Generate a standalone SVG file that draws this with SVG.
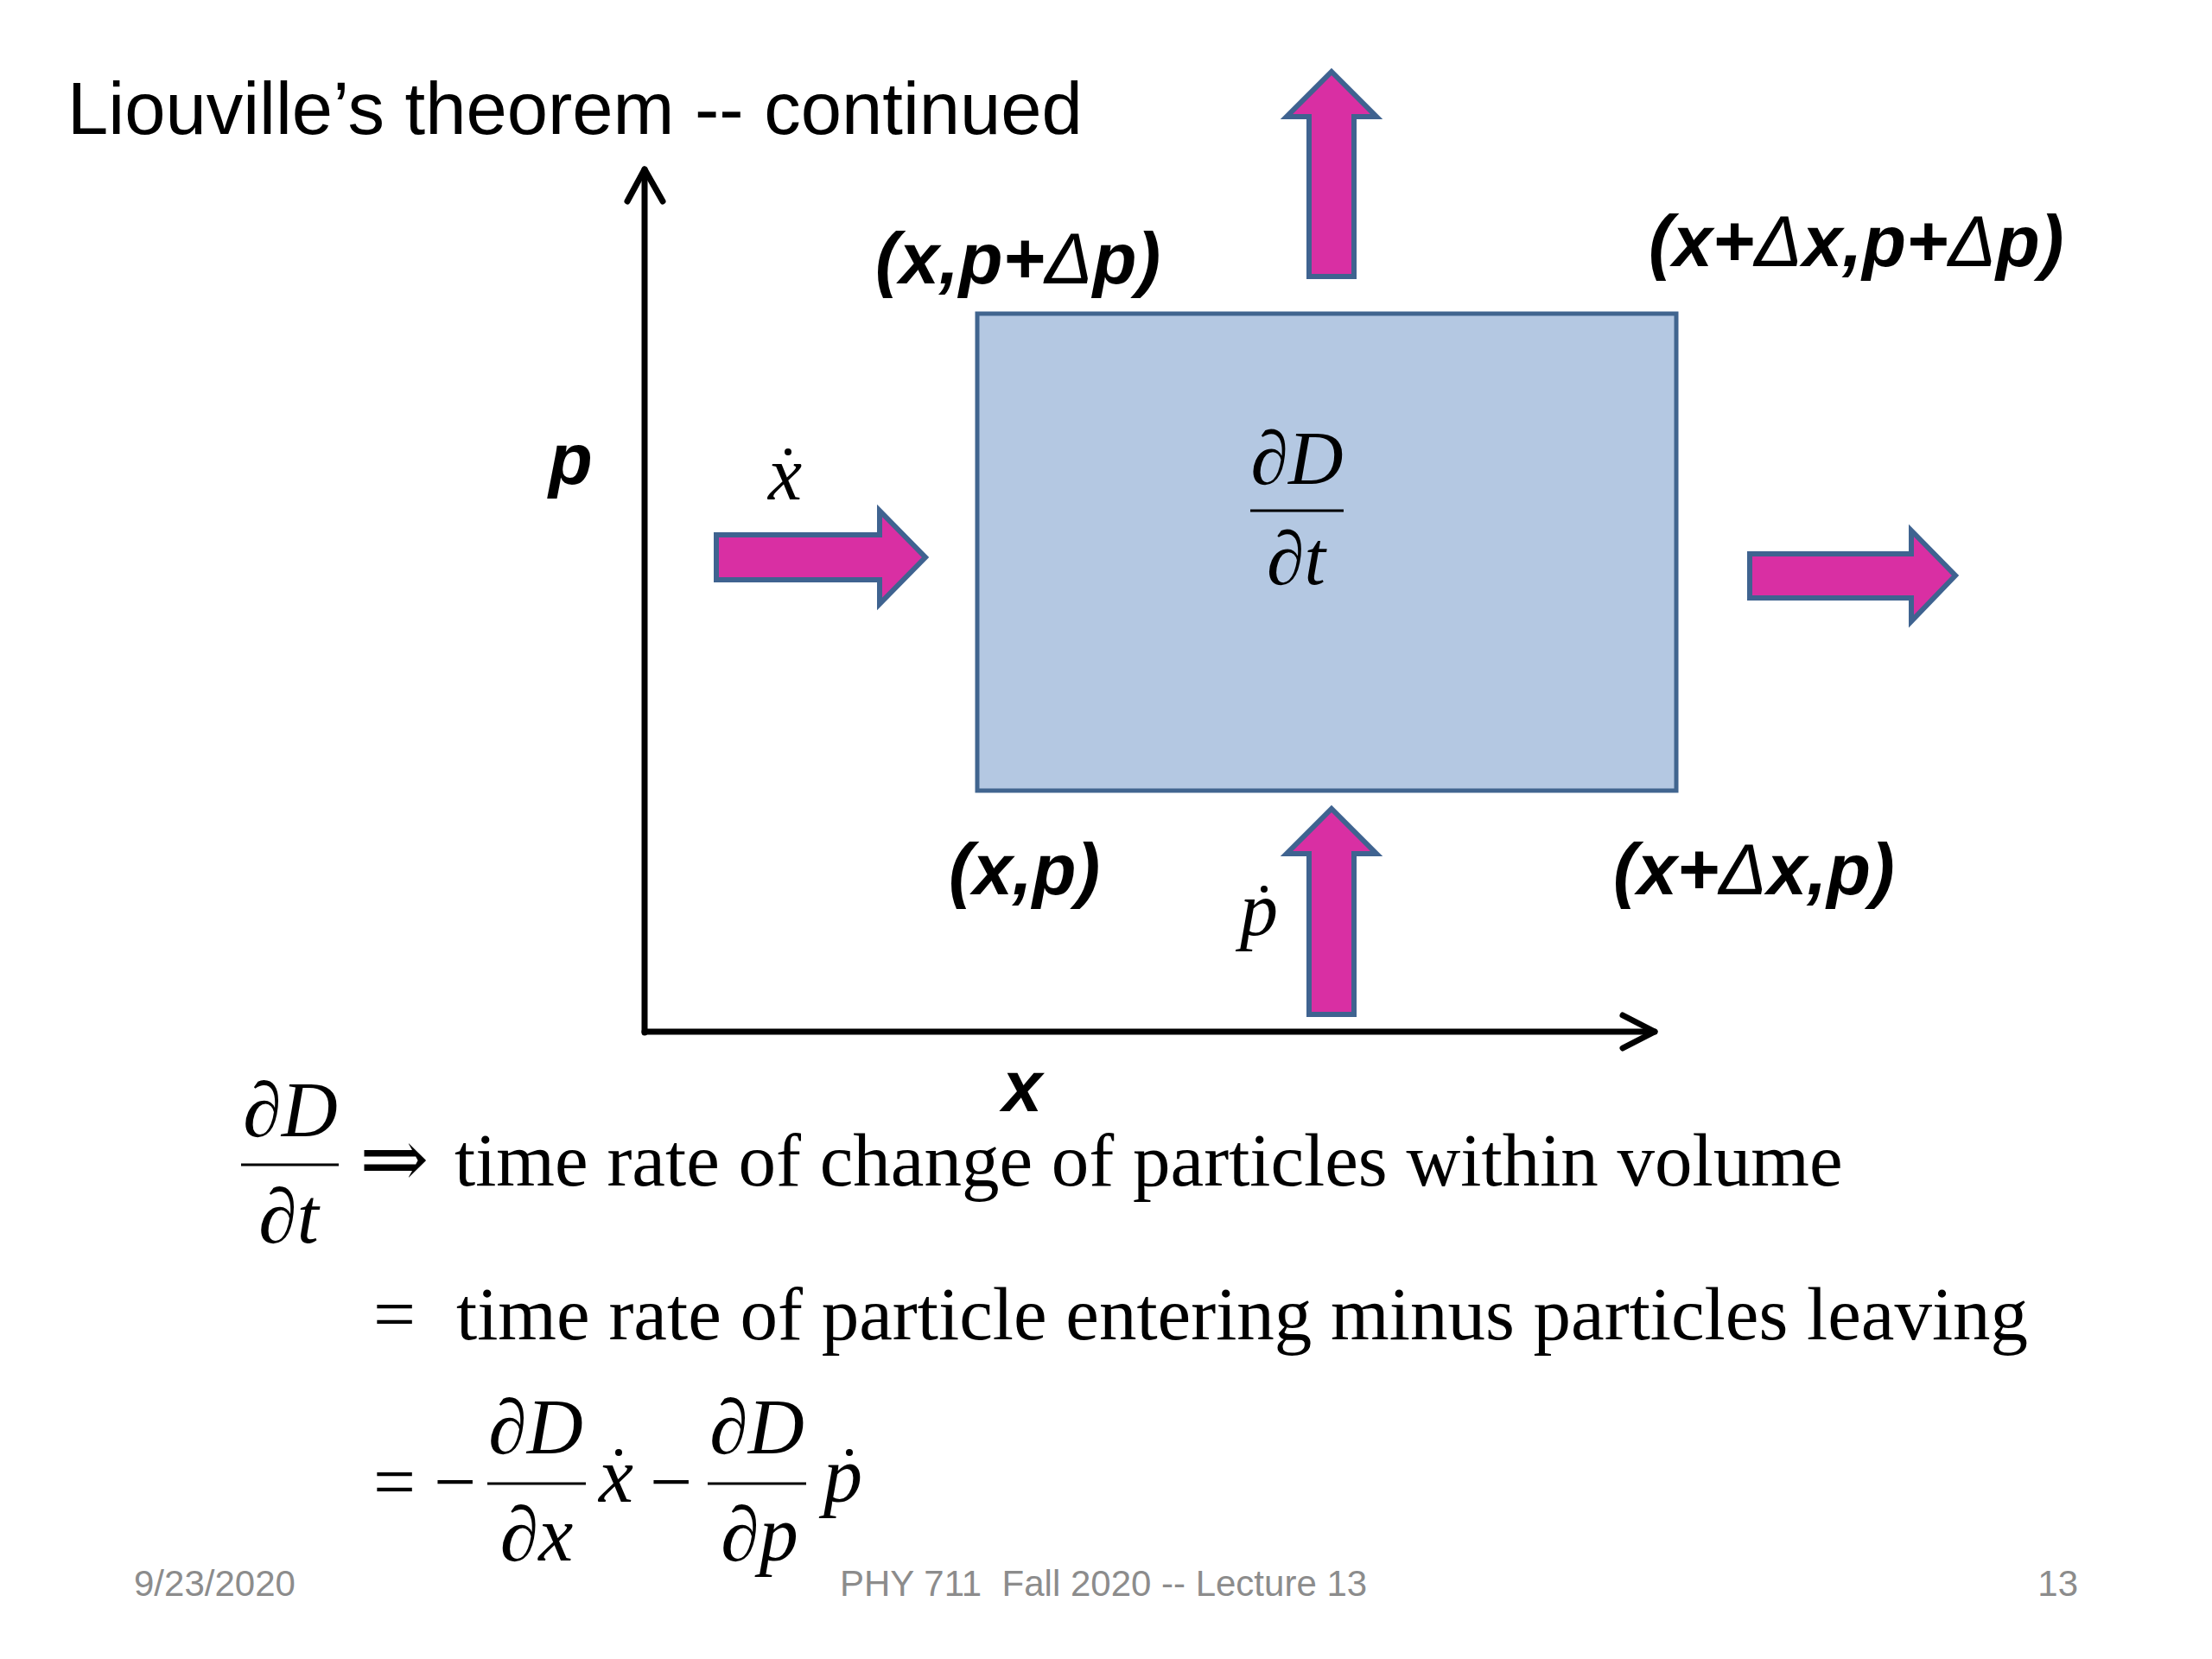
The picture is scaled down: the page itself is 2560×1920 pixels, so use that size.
<svg xmlns="http://www.w3.org/2000/svg" width="2560" height="1920" viewBox="0 0 2560 1920">
<style>
.title{font-family:"Liberation Sans",Arial,sans-serif;font-size:85px;fill:#000}
.lbl{font-family:"Liberation Sans",Arial,sans-serif;font-size:83px;font-weight:bold;font-style:italic;fill:#000}
.dl{font-weight:normal}
.m{font-family:"Liberation Serif","Times New Roman","DejaVu Serif",serif;font-size:88px;font-style:italic;fill:#000}
.up{font-style:normal}
.txt{font-family:"Liberation Serif","Times New Roman","DejaVu Serif",serif;font-size:87px;fill:#000}
.foot{font-family:"Liberation Sans",Arial,sans-serif;font-size:42px;fill:#8c8c8c}
.axis{fill:none;stroke:#000;stroke-width:7;stroke-linecap:round;stroke-linejoin:round}
.flow{fill:#D92FA3;stroke:#3F6390;stroke-width:6;stroke-linejoin:miter}
.frac{stroke:#000;stroke-width:3}
.dot{fill:#000}
</style>
<rect width="2560" height="1920" fill="#fff"/>
<text class="title" x="78" y="155">Liouville’s theorem -- continued</text>

<g id="connectors">
  <g id="axis-p">
    <path class="axis" d="M746,1195 V196"/>
    <polyline class="axis" points="726,233 746,196 767,233"/>
  </g>
  <g id="axis-x">
    <path class="axis" d="M746,1194 H1915"/>
    <polyline class="axis" points="1878,1175 1915,1194 1878,1213"/>
  </g>
  <path id="arrow-in-x" class="flow" d="M829,619 H1018 V591 L1071,645 L1018,699 V671 H829 Z"/>
  <path id="arrow-out-x" class="flow" d="M2025,641 H2212 V614 L2263,666 L2212,719 V692 H2025 Z"/>
  <path id="arrow-out-p" class="flow" d="M1515,320 V135 H1489 L1541,83 L1593,135 H1567 V320 Z"/>
  <path id="arrow-in-p" class="flow" d="M1515,1174 V988 H1489 L1541,936 L1593,988 H1567 V1174 Z"/>
</g>

<g id="box">
  <rect x="1131" y="363" width="809" height="552" fill="#B4C8E2" stroke="#41658F" stroke-width="5"/>
  <text class="m" x="1501" y="560" text-anchor="middle"><tspan class="up">∂</tspan>D</text>
  <line class="frac" x1="1447" y1="591" x2="1555" y2="591"/>
  <text class="m" x="1500" y="676" text-anchor="middle"><tspan class="up">∂</tspan>t</text>
</g>

<g id="corner-labels">
  <text class="lbl" x="1013" y="328">(x,p+<tspan class="dl">Δ</tspan>p)</text>
  <text class="lbl" x="1908" y="308">(x+<tspan class="dl">Δ</tspan>x,p+<tspan class="dl">Δ</tspan>p)</text>
  <text class="lbl" x="1098" y="1035">(x,p)</text>
  <text class="lbl" x="1867" y="1035">(x+<tspan class="dl">Δ</tspan>x,p)</text>
  <text class="lbl" x="635" y="560">p</text>
  <text class="lbl" x="1160" y="1286">x</text>
</g>

<g id="rate-labels">
  <text class="m" x="889" y="578">x</text>
  <circle class="dot" cx="912" cy="523" r="4"/>
  <text class="m" x="1435" y="1082">p</text>
  <circle class="dot" cx="1463" cy="1029" r="4"/>
</g>

<g id="equations">
  <text class="m" x="336" y="1315" text-anchor="middle" style="font-size:90px"><tspan class="up">∂</tspan>D</text>
  <line class="frac" x1="279" y1="1348" x2="392" y2="1348"/>
  <text class="m" x="334" y="1438" text-anchor="middle" style="font-size:90px"><tspan class="up">∂</tspan>t</text>
  <text class="txt" x="416" y="1374" style="font-size:96px">⇒</text>
  <text class="txt" x="526" y="1372">time rate of change of particles within volume</text>

  <text class="txt" x="432" y="1550">=</text>
  <text class="txt" x="528" y="1550">time rate of particle entering minus particles leaving</text>

  <text class="txt" x="432" y="1744">=</text>
  <text class="txt" x="502" y="1744">−</text>
  <text class="m" x="620" y="1682" text-anchor="middle" style="font-size:90px"><tspan class="up">∂</tspan>D</text>
  <line class="frac" x1="564" y1="1717" x2="678" y2="1717"/>
  <text class="m" x="621" y="1806" text-anchor="middle" style="font-size:90px"><tspan class="up">∂</tspan>x</text>
  <text class="m" x="693" y="1738" style="font-size:90px">x</text>
  <circle class="dot" cx="716" cy="1681" r="4"/>
  <text class="txt" x="752" y="1744">−</text>
  <text class="m" x="876" y="1682" text-anchor="middle" style="font-size:90px"><tspan class="up">∂</tspan>D</text>
  <line class="frac" x1="819" y1="1717" x2="933" y2="1717"/>
  <text class="m" x="879" y="1806" text-anchor="middle" style="font-size:90px"><tspan class="up">∂</tspan>p</text>
  <text class="m" x="953" y="1738" style="font-size:90px">p</text>
  <circle class="dot" cx="983" cy="1681" r="4"/>
</g>

<g id="footer">
  <text class="foot" x="155" y="1847">9/23/2020</text>
  <text class="foot" x="972" y="1847" xml:space="preserve">PHY 711  Fall 2020 -- Lecture 13</text>
  <text class="foot" x="2405" y="1847" text-anchor="end">13</text>
</g>
</svg>
